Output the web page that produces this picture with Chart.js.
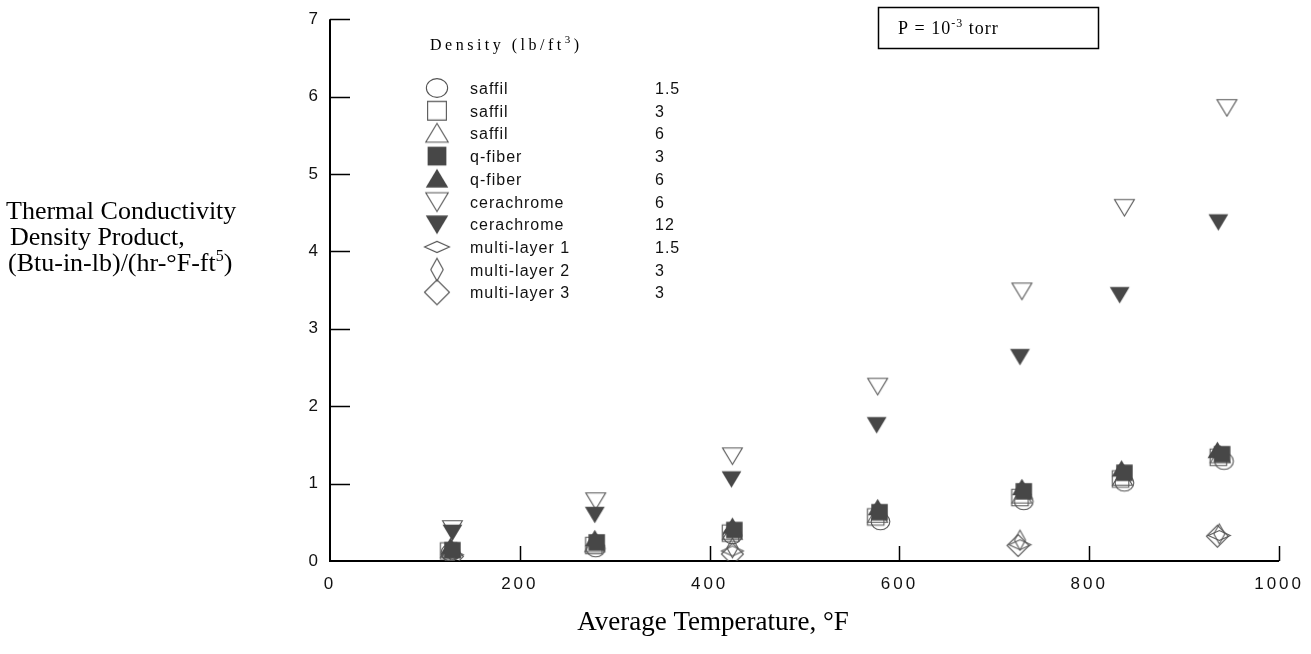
<!DOCTYPE html>
<html><head><meta charset="utf-8">
<script src="https://cdn.jsdelivr.net/npm/chart.js@4.4.1/dist/chart.umd.min.js"></script>
<style>html,body{margin:0;padding:0;background:#fff;}canvas{display:block;}</style>
</head><body>
<canvas id="c" width="1311" height="654"></canvas>
<script>
// ---- data ----
const seriesNames   = ['saffil','saffil','saffil','q-fiber','q-fiber','cerachrome','cerachrome','multi-layer 1','multi-layer 2','multi-layer 3'];
const seriesDensity = ['1.5','3','6','3','6','6','12','1.5','3','3'];

const saffil15_T = [127, 280, 424, 580, 731, 837, 942];
const saffil15_k = [0.11, 0.16, 0.33, 0.51, 0.77, 1.01, 1.29];
const saffil3_T  = [125, 278, 422, 575, 727, 833, 936];
const saffil3_k  = [0.13, 0.20, 0.36, 0.57, 0.82, 1.06, 1.34];
const saffil6_T  = [127, 279, 424, 577, 729, 835, 938];
const saffil6_k  = [0.15, 0.22, 0.38, 0.60, 0.85, 1.08, 1.37];
const qfiber3_T  = [129, 281, 426, 579, 731, 837, 940];
const qfiber3_k  = [0.14, 0.24, 0.40, 0.63, 0.90, 1.14, 1.38];
const qfiber6_T  = [127, 279, 424, 577, 729, 834, 935];
const qfiber6_k  = [0.19, 0.29, 0.45, 0.69, 0.95, 1.19, 1.43];
const cera6_T    = [129, 280, 424, 577, 729, 837, 945];
const cera6_k    = [0.42, 0.78, 1.36, 2.26, 3.49, 4.57, 5.86];
const cera12_T   = [129, 279, 423, 576, 727, 832, 936];
const cera12_k   = [0.37, 0.60, 1.06, 1.76, 2.64, 3.44, 4.38];
const ml1_T      = [129, 424, 727, 937];
const ml1_k      = [0.08, 0.13, 0.21, 0.33];
const ml2_T      = [129, 424, 727, 937];
const ml2_k      = [0.10, 0.17, 0.27, 0.35];
const ml3_T      = [129, 424, 725, 935];
const ml3_k      = [0.06, 0.09, 0.20, 0.32];

const seriesT = [saffil15_T, saffil3_T, saffil6_T, qfiber3_T, qfiber6_T, cera6_T, cera12_T, ml1_T, ml2_T, ml3_T];
const seriesK = [saffil15_k, saffil3_k, saffil6_k, qfiber3_k, qfiber6_k, cera6_k, cera12_k, ml1_k, ml2_k, ml3_k];

const xTickValues = [0, 200, 400, 600, 800, 1000];
const yTickValues = [0, 1, 2, 3, 4, 5, 6, 7];
const yTitleLines = ['Thermal Conductivity', 'Density Product,', '(Btu-in-lb)/(hr-\u00B0F-ft'];
const xTitle = 'Average Temperature, \u00B0F';

// ---- styles ----
const markerKind = ['circle','square','triUp','square','triUp','triDown','triDown','diamondFlat','diamondTall','diamond'];
const markerMode = ['none','none','none','fill','fill','none','fill','none','none','none'];
const FILL = '#474747', STROKE = '#555555';

function makeMarker(kind, mode, s) {
  const size = Math.ceil(30 * s);
  const c = document.createElement('canvas');
  c.width = size; c.height = size;
  const g = c.getContext('2d');
  const m = size / 2;
  g.lineWidth = 1.1;
  g.strokeStyle = STROKE;
  g.beginPath();
  switch (kind) {
    case 'circle': g.ellipse(m, m, 8.5*s, 7.5*s, 0, 0, 2*Math.PI); break;
    case 'square': g.rect(m-7.5*s, m-7.5*s, 15*s, 15*s); break;
    case 'triUp': g.moveTo(m, m-8*s); g.lineTo(m+9*s, m+7*s); g.lineTo(m-9*s, m+7*s); g.closePath(); break;
    case 'triDown': g.moveTo(m, m+8*s); g.lineTo(m+9*s, m-7*s); g.lineTo(m-9*s, m-7*s); g.closePath(); break;
    case 'diamondFlat': g.moveTo(m-10*s, m); g.lineTo(m, m-4.5*s); g.lineTo(m+10*s, m); g.lineTo(m, m+4.5*s); g.closePath(); break;
    case 'diamondTall': g.moveTo(m-5*s, m); g.lineTo(m, m-9*s); g.lineTo(m+5*s, m); g.lineTo(m, m+9*s); g.closePath(); break;
    case 'diamond': g.moveTo(m-10*s, m); g.lineTo(m, m-10*s); g.lineTo(m+10*s, m); g.lineTo(m, m+10*s); g.closePath(); break;
  }
  if (mode === 'fill') { g.fillStyle = FILL; g.fill(); }
  else { g.stroke(); }
  return c;
}

const plotMarkers = markerKind.map((k, i) => makeMarker(k, markerMode[i], 1.1));
const legendMarkers = markerKind.map((k, i) => makeMarker(k, markerMode[i], 1.25));

const datasets = seriesNames.map((name, i) => ({
  label: name + ' ' + seriesDensity[i],
  data: seriesT[i].map((t, j) => ({x: t, y: seriesK[i][j]})),
  pointStyle: plotMarkers[i],
  pointRadius: 9,
  showLine: false,
  order: markerMode[i] === 'fill' ? 0 : 1
}));

function drawRich(ctx, parts, x, y) {
  let cx = x;
  for (const [t, sup] of parts) {
    if (sup) {
      const f = ctx.font;
      ctx.font = ctx._supFont;
      ctx.fillText(t, cx, y - ctx._supRaise);
      cx += ctx.measureText(t).width;
      ctx.font = f;
    } else {
      ctx.fillText(t, cx, y);
      cx += ctx.measureText(t).width;
    }
  }
  return cx;
}

const decorPlugin = {
  id: 'decor',
  beforeDraw(chart) { chart.ctx.letterSpacing = '3px'; },
  beforeDatasetsDraw(chart) {
    const ctx = chart.ctx;
    ctx.letterSpacing = '0px';
    const xs = chart.scales.x, ys = chart.scales.y;
    const left = xs.getPixelForValue(0), right = xs.getPixelForValue(1000);
    const bottom = ys.getPixelForValue(0), top = ys.getPixelForValue(7);
    ctx.save();
    ctx.strokeStyle = '#000';
    ctx.lineWidth = 2;
    ctx.beginPath();
    ctx.moveTo(left, top); ctx.lineTo(left, bottom); ctx.lineTo(right, bottom);
    ctx.stroke();
    ctx.lineWidth = 1.5;
    ctx.beginPath();
    yTickValues.filter(v => v > 0).forEach(v => {
      const y = Math.round(ys.getPixelForValue(v)) + 0.5;
      ctx.moveTo(left, y); ctx.lineTo(left + 20, y);
    });
    xTickValues.filter(v => v > 0).forEach(v => {
      const x = Math.round(xs.getPixelForValue(v)) + 0.5;
      ctx.moveTo(x, bottom); ctx.lineTo(x, bottom - 15);
    });
    ctx.stroke();
    ctx.restore();
  },
  afterDraw(chart) {
    const ctx = chart.ctx;
    ctx.save();
    ctx.fillStyle = '#000';
    ctx.textBaseline = 'alphabetic';
    ctx.textAlign = 'left';
    // y title
    ctx.letterSpacing = '0px';
    ctx.font = '26px "Liberation Serif", "Times New Roman", serif';
    ctx._supFont = '16px "Liberation Serif", serif'; ctx._supRaise = 10;
    const yBase = [219, 245, 271], yLeft = [6, 10, 8];
    drawRich(ctx, [[yTitleLines[0], false]], yLeft[0], yBase[0]);
    drawRich(ctx, [[yTitleLines[1], false]], yLeft[1], yBase[1]);
    drawRich(ctx, [[yTitleLines[2], false], ['5', true], [')', false]], yLeft[2], yBase[2]);
    // x title
    ctx.font = '27px "Liberation Serif", "Times New Roman", serif';
    ctx.textAlign = 'center';
    ctx.fillText(xTitle, 713, 630);
    ctx.textAlign = 'left';
    // P box
    ctx.strokeStyle = '#000'; ctx.lineWidth = 1.5;
    ctx.strokeRect(878.5, 7.5, 220, 41);
    ctx.font = '18px "Liberation Serif", serif';
    ctx.letterSpacing = '1px';
    ctx._supFont = '12px "Liberation Serif", serif'; ctx._supRaise = 7;
    drawRich(ctx, [['P = 10', false], ['-3', true], [' torr', false]], 898, 34);
    // legend header
    ctx.font = '16px "Liberation Serif", serif';
    ctx.letterSpacing = '3.5px';
    ctx._supFont = '11px "Liberation Serif", serif'; ctx._supRaise = 7;
    drawRich(ctx, [['Density (lb/ft', false], ['3', true], [')', false]], 430, 50);
    // legend rows
    ctx.font = '16px "Liberation Sans", Arial, sans-serif';
    ctx.letterSpacing = '1px';
    ctx.fillStyle = '#111';
    const rowY0 = 88, rowStep = 22.7;
    seriesNames.forEach((n, i) => {
      const y = rowY0 + i * rowStep;
      const mk = legendMarkers[i];
      ctx.drawImage(mk, 437 - mk.width / 2, y - mk.height / 2);
      ctx.fillText(n, 470, y + 6);
      ctx.fillText(seriesDensity[i], 655, y + 6);
    });
    ctx.restore();
  }
};

new Chart(document.getElementById('c'), {
  type: 'scatter',
  data: { datasets },
  plugins: [decorPlugin],
  options: {
    responsive: false,
    animation: false,
    devicePixelRatio: 1,
    layout: { padding: { left: 0, right: 30, top: 12, bottom: 0 } },
    plugins: { legend: { display: false }, tooltip: { enabled: false } },
    scales: {
      x: {
        type: 'linear', min: 0, max: 1000,
        afterFit(s) { s.height = 93; },
        afterBuildTicks(s) { s.ticks = xTickValues.map(v => ({value: v})); },
        grid: { display: false, drawTicks: false },
        border: { display: false },
        ticks: { color: '#111', padding: 13, callback: v => String(v), font: { family: '"Liberation Sans", Arial, sans-serif', size: 17 } }
      },
      y: {
        type: 'linear', min: 0, max: 7,
        afterFit(s) { s.width = 330; },
        afterBuildTicks(s) { s.ticks = yTickValues.map(v => ({value: v})); },
        grid: { display: false, drawTicks: false },
        border: { display: false },
        ticks: { color: '#111', padding: 9, callback: v => String(v), font: { family: '"Liberation Sans", Arial, sans-serif', size: 17 } }
      }
    }
  }
});
</script>
</body></html>
